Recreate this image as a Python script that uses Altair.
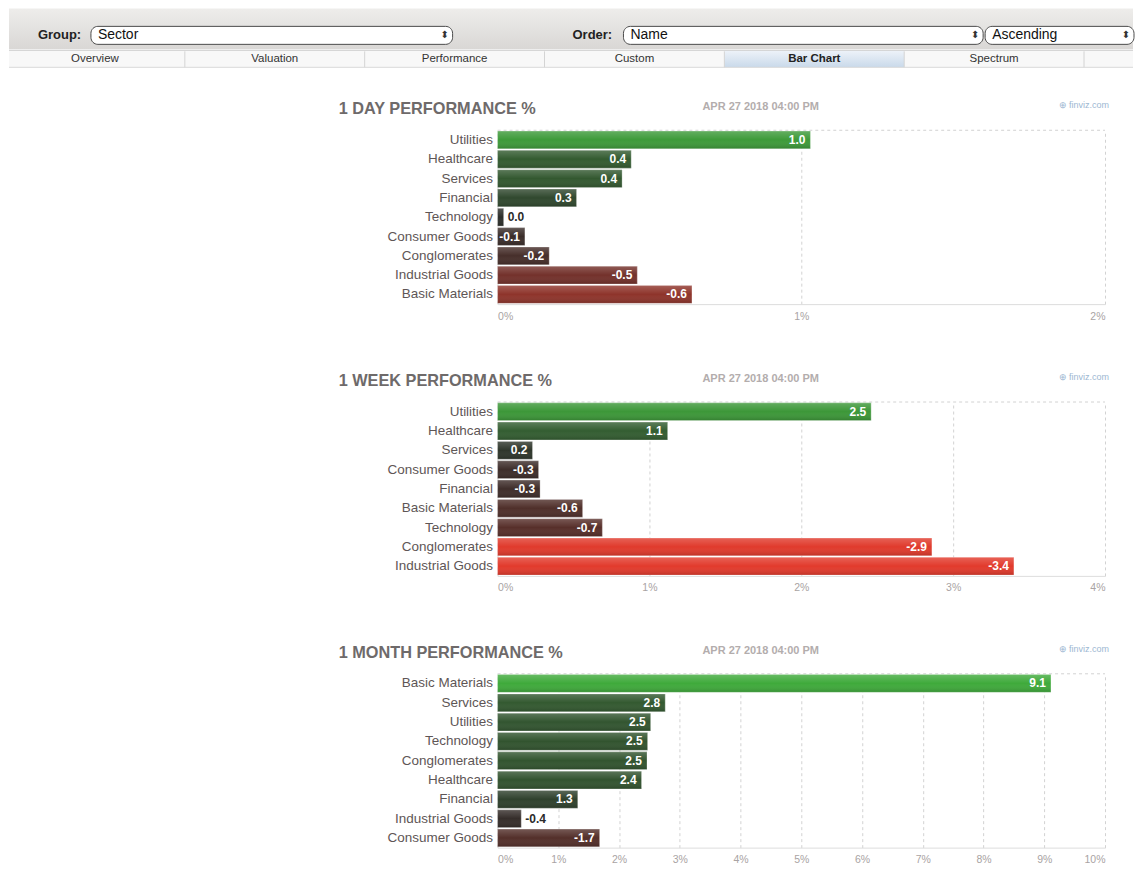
import altair as alt
import pandas as pd

# ---------------- data ----------------
day_sectors = ["Utilities", "Healthcare", "Services", "Financial", "Technology",
               "Consumer Goods", "Conglomerates", "Industrial Goods", "Basic Materials"]
day_values = [1.03, 0.44, 0.41, 0.26, 0.02, -0.09, -0.17, -0.46, -0.64]

week_sectors = ["Utilities", "Healthcare", "Services", "Consumer Goods", "Financial",
                "Basic Materials", "Technology", "Conglomerates", "Industrial Goods"]
week_values = [2.46, 1.12, 0.23, -0.27, -0.28, -0.56, -0.69, -2.86, -3.40]

month_sectors = ["Basic Materials", "Services", "Utilities", "Technology", "Conglomerates",
                 "Healthcare", "Financial", "Industrial Goods", "Consumer Goods"]
month_values = [9.11, 2.76, 2.52, 2.47, 2.46, 2.37, 1.32, -0.39, -1.68]

panel_titles = ["1 DAY PERFORMANCE %", "1 WEEK PERFORMANCE %", "1 MONTH PERFORMANCE %"]
axis_max = [2, 4, 10]
timestamp = "APR 27 2018 04:00 PM"
brand = "\u2295 finviz.com"

tabs = ["Overview", "Valuation", "Performance", "Custom", "Bar Chart", "Spectrum"]
active_tab = "Bar Chart"
group_label, group_value = "Group:", "Sector"
order_label, order_value, order_dir = "Order:", "Name", "Ascending"

# ---------------- styling ----------------
FONT = "Liberation Sans, Arial, sans-serif"
W, H = 608, 174
LEFT = 489
GREEN, DARK, RED = "#3faa3b", "#2c2c2a", "#e23a2c"

shine = alt.Gradient(
    gradient="linear", x1=0, y1=0, x2=0, y2=1,
    stops=[alt.GradientStop(color="rgba(255,255,255,0.20)", offset=0),
           alt.GradientStop(color="rgba(255,255,255,0.0)", offset=0.5),
           alt.GradientStop(color="rgba(0,0,0,0.16)", offset=1)])


def one():
    return alt.Chart(alt.Data(values=[{"k": 1}]))


def panel(sectors, values, title, xmax, bottom, factor):
    df = pd.DataFrame({"sector": sectors, "value": values})
    df["mag"] = df["value"].abs()
    m = float(df["mag"].max()) * factor
    base = alt.Chart(df).transform_calculate(
        px=f"datum.mag / {xmax} * {W}",
        label="(datum.value < 0 ? '-' : '') + format(abs(datum.value), '.1f')")

    xenc = alt.X("mag:Q", scale=alt.Scale(domain=[0, xmax], nice=False),
                 axis=alt.Axis(values=list(range(xmax + 1)), labelExpr="datum.value + '%'",
                               grid=True, gridDash=[3, 3], gridColor="#d2d2d2",
                               domainColor="#dddddd", ticks=False, labelColor="#a9a3a3",
                               labelFontSize=10.5, labelPadding=7, labelFont=FONT, title=None))
    yenc = alt.Y("sector:N", sort=sectors,
                 scale=alt.Scale(paddingInner=0.08, paddingOuter=0.04),
                 axis=alt.Axis(title=None, ticks=False, domain=False, labelFontSize=13.5,
                               labelColor="#5e5656", labelPadding=5, labelFont=FONT,
                               labelLimit=300))
    ysimple = alt.Y("sector:N", sort=sectors)

    spacer = one().mark_rect(opacity=0).encode(
        x=alt.value(-LEFT), x2=alt.value(W), y=alt.value(-60), y2=alt.value(bottom))
    top_border = one().mark_rule(color="#d2d2d2", strokeDash=[3, 3]).encode(
        x=alt.value(0), x2=alt.value(W), y=alt.value(0))
    bars = base.mark_bar().encode(
        x=xenc, y=yenc,
        color=alt.Color("value:Q", legend=None,
                        scale=alt.Scale(domain=[-m, 0, m], range=[RED, DARK, GREEN],
                                        clamp=True, interpolate="rgb")))
    gloss = base.mark_bar(fill=shine, stroke="rgba(255,255,255,0.35)", strokeWidth=0.8).encode(
        x="mag:Q", y=ysimple)
    txt_in = base.transform_filter("datum.px >= 26").mark_text(
        align="right", baseline="middle", dx=-5, color="white", fontWeight="bold",
        fontSize=12, font=FONT).encode(x="mag:Q", y=ysimple, text="label:N")
    txt_out = base.transform_filter("datum.px < 26").mark_text(
        align="left", baseline="middle", dx=4, color="#2a2a2a", fontWeight="bold",
        fontSize=12, font=FONT).encode(x="mag:Q", y=ysimple, text="label:N")
    ttl = one().mark_text(align="left", baseline="middle", fontSize=16.3, fontWeight="bold",
                          color="#6e6a6a", font=FONT).encode(
        x=alt.value(-159), y=alt.value(-21), text=alt.value(title))
    stamp = one().mark_text(align="left", baseline="middle", fontSize=11, fontWeight="bold",
                            color="#b3adad", font=FONT).encode(
        x=alt.value(205), y=alt.value(-23), text=alt.value(timestamp))
    mark = one().mark_text(align="right", baseline="middle", fontSize=9,
                           color="#9db7d2", font=FONT).encode(
        x=alt.value(612), y=alt.value(-25), text=alt.value(brand))
    return alt.layer(spacer, top_border, bars, gloss, txt_in, txt_out, ttl, stamp, mark).properties(
        width=W, height=H)


# ---------------- header (page controls) ----------------
bg_grad = alt.Gradient(
    gradient="linear", x1=0, y1=0, x2=0, y2=1,
    stops=[alt.GradientStop(color="#eeedeb", offset=0),
           alt.GradientStop(color="#d9d7d5", offset=1)])
tab_grad = alt.Gradient(
    gradient="linear", x1=0, y1=0, x2=0, y2=1,
    stops=[alt.GradientStop(color="#eef3f9", offset=0),
           alt.GradientStop(color="#c9d9ea", offset=1)])

R = 636
hdr_bg = one().mark_rect(fill=bg_grad).encode(
    x=alt.value(-LEFT), x2=alt.value(R), y=alt.value(0), y2=alt.value(41))
tab_bg = one().mark_rect(fill="#f8f8f8").encode(
    x=alt.value(-LEFT), x2=alt.value(R), y=alt.value(42), y2=alt.value(59))
tab_lines = one().mark_rule(color="#cfcfcf").encode(
    x=alt.value(-LEFT), x2=alt.value(R), y=alt.value(42))
tab_lines2 = one().mark_rule(color="#d9d9d9").encode(
    x=alt.value(-LEFT), x2=alt.value(R), y=alt.value(59))

tab_df = pd.DataFrame({"tab": tabs, "i": list(range(len(tabs)))})
tab_x = alt.Scale(domain=[0, 7], range=[-493, 767])
tabs_base = alt.Chart(tab_df)
tab_hi = tabs_base.transform_filter(f"datum.tab == '{active_tab}'").transform_calculate(
    i2="datum.i + 1").mark_rect(fill=tab_grad).encode(
    x=alt.X("i:Q", scale=tab_x, axis=None), x2="i2:Q", y=alt.value(42), y2=alt.value(59))
tab_sep = tabs_base.transform_calculate(j="datum.i + 1").mark_rule(color="#d4d4d4").encode(
    x=alt.X("j:Q", scale=tab_x, axis=None), y=alt.value(43), y2=alt.value(59))
tab_txt = tabs_base.transform_filter(f"datum.tab != '{active_tab}'").transform_calculate(
    c="datum.i + 0.5").mark_text(fontSize=11.5, color="#333333", font=FONT, baseline="middle").encode(
    x=alt.X("c:Q", scale=tab_x, axis=None), y=alt.value(51), text="tab:N")
tab_txt_b = tabs_base.transform_filter(f"datum.tab == '{active_tab}'").transform_calculate(
    c="datum.i + 0.5").mark_text(fontSize=11.5, color="#222222", fontWeight="bold", font=FONT,
                                 baseline="middle").encode(
    x=alt.X("c:Q", scale=tab_x, axis=None), y=alt.value(51), text="tab:N")


def select_box(x0, x1, label):
    box = one().mark_rect(fill="white", stroke="#4a4a4a", strokeWidth=1, cornerRadius=7).encode(
        x=alt.value(x0), x2=alt.value(x1), y=alt.value(18), y2=alt.value(36))
    txt = one().mark_text(align="left", baseline="middle", fontSize=14, color="#111111",
                          font=FONT).encode(x=alt.value(x0 + 7), y=alt.value(27),
                                            text=alt.value(label))
    arr = one().mark_text(align="center", baseline="middle", fontSize=10, color="#333333",
                          font="DejaVu Sans").encode(x=alt.value(x1 - 8), y=alt.value(27),
                                                     text=alt.value("\u2b0d"))
    return [box, txt, arr]


lbl_group = one().mark_text(align="left", baseline="middle", fontSize=13, fontWeight="bold",
                            color="#222222", font=FONT).encode(
    x=alt.value(-460), y=alt.value(27), text=alt.value(group_label))
lbl_order = one().mark_text(align="left", baseline="middle", fontSize=13, fontWeight="bold",
                            color="#222222", font=FONT).encode(
    x=alt.value(75), y=alt.value(27), text=alt.value(order_label))

header_layers = [hdr_bg, tab_bg, tab_hi, tab_lines, tab_lines2, tab_sep, tab_txt, tab_txt_b,
                 lbl_group, lbl_order]
header_layers += select_box(-407, -45, group_value)
header_layers += select_box(126, 486, order_value)
header_layers += select_box(488, 637, order_dir)
header = alt.layer(*header_layers).properties(width=W, height=62)

p1 = panel(day_sectors, day_values, panel_titles[0], axis_max[0], 212, 1.15)
p2 = panel(week_sectors, week_values, panel_titles[1], axis_max[1], 212, 0.85)
p3 = panel(month_sectors, month_values, panel_titles[2], axis_max[2], 190, 0.85)

chart = alt.vconcat(header, p1, p2, p3, spacing=0).resolve_scale(
    color="independent").properties(padding=0).configure_view(strokeWidth=0)

chart.save("out.html", embed_options={"renderer": "svg", "actions": False})
